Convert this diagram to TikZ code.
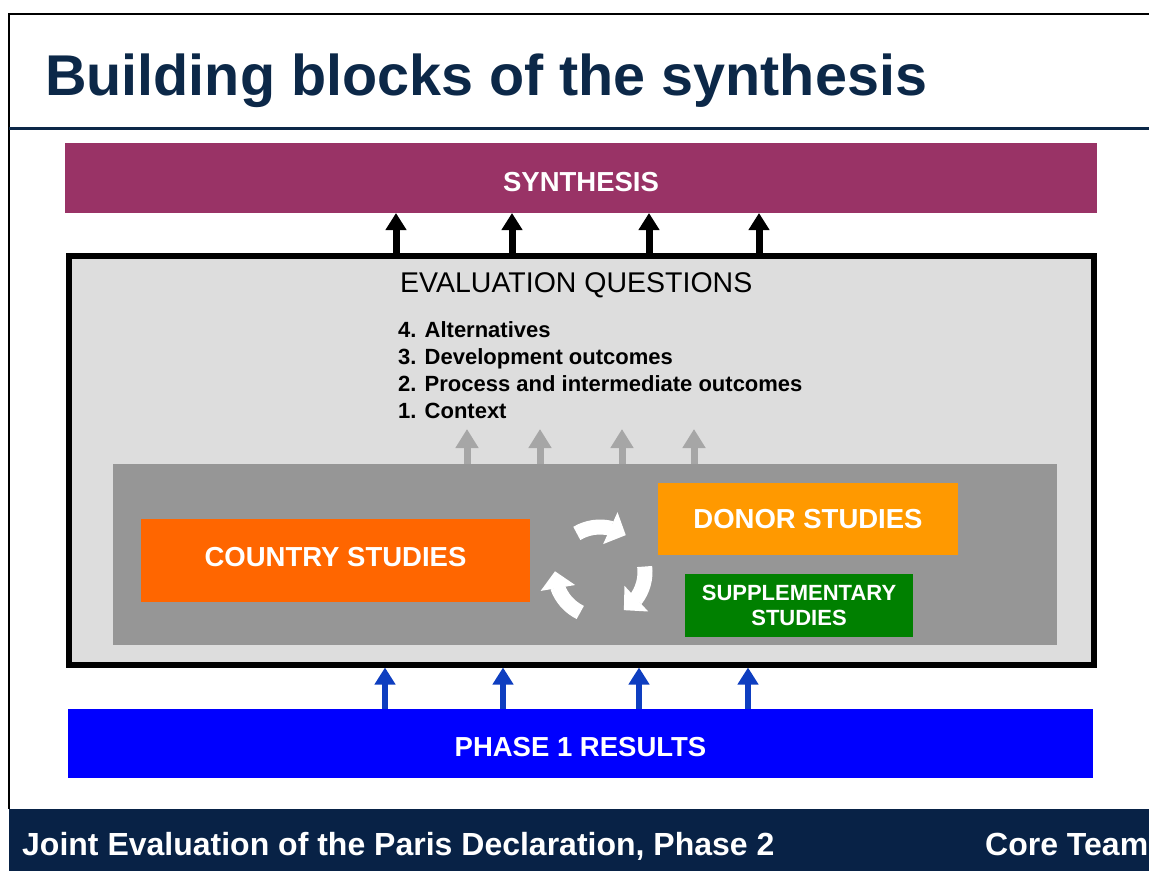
\documentclass[tikz,border=0pt]{standalone}
\usepackage{fontspec}
\setmainfont{Liberation Sans}
\usetikzlibrary{arrows.meta,bending,calc}
\definecolor{titlenavy}{RGB}{12,40,72}
\definecolor{footnavy}{RGB}{8,34,70}
\definecolor{synthcol}{RGB}{153,51,102}
\definecolor{evalfill}{RGB}{221,221,221}
\definecolor{innergray}{RGB}{150,150,150}
\definecolor{grayarrow}{RGB}{166,166,166}
\definecolor{countrycol}{RGB}{255,102,0}
\definecolor{donorcol}{RGB}{255,153,0}
\definecolor{suppcol}{RGB}{0,128,0}
\definecolor{phasecol}{RGB}{0,0,255}
\definecolor{bluearrow}{RGB}{14,62,192}
\newcommand{\fs}[1]{\fontsize{#1}{#1}\selectfont}
\tikzset{
  blockbox/.style={inner sep=0pt, outer sep=0pt},
  boxlabel/.style={inner sep=0pt, text=white, font=\fs{27.5}\bfseries},
  blackup/.style={draw=black, line width=7pt, -{Triangle[width=20pt,length=17pt]}},
  grayup/.style={draw=grayarrow, line width=7pt, -{Triangle[width=22pt,length=19pt]}},
  blueup/.style={draw=bluearrow, line width=6pt, -{Triangle[width=20pt,length=17pt]}},
  cyclearrow/.style={draw=white, line width=15pt, -{Triangle[width=34pt,length=17pt]}},
}
\begin{document}
\begin{tikzpicture}[x=1pt,y=1pt]
\useasboundingbox[fill=white] (0,0) rectangle (1149,-871);

% frame and title rule
\draw[line width=2.5pt] (9,-809) -- (9,-14) -- (1149,-14);
\draw[titlenavy, line width=3pt] (9,-128) -- (1149,-128);

% title
\node[anchor=base west, inner sep=0pt, text=titlenavy, font=\fs{57.5}\bfseries] (title) at (45,-95) {Building blocks of the synthesis};

% synthesis bar
\node[blockbox, fill=synthcol, minimum width=1032pt, minimum height=70pt] (synth) at (581,-178) {};
\node[boxlabel] (synthtext) at ([yshift=-4pt]synth.center) {SYNTHESIS};

% evaluation box
\node[draw=black, line width=6pt, fill=evalfill, inner sep=0pt, minimum width=1025.5pt, minimum height=409pt] (eval) at (581.25,-460) {};
\node[anchor=base west, inner sep=0pt, font=\fs{28.5}] (evq) at (400,-292) {EVALUATION QUESTIONS};
\node[anchor=base west, inner sep=0pt, font=\fs{22}\bfseries] (q4) at (398,-337) {4. Alternatives};
\node[anchor=base west, inner sep=0pt, font=\fs{22}\bfseries] (q3) at (398,-364) {3. Development outcomes};
\node[anchor=base west, inner sep=0pt, font=\fs{22}\bfseries] (q2) at (398,-391) {2. Process and intermediate outcomes};
\node[anchor=base west, inner sep=0pt, font=\fs{22}\bfseries] (q1) at (398,-418) {1. Context};

% inner gray box and studies
\node[blockbox, fill=innergray, minimum width=944pt, minimum height=181pt] (inner) at (585,-554.5) {};
\node[blockbox, fill=countrycol, minimum width=389pt, minimum height=83pt] (country) at (335.5,-560.5) {};
\node[boxlabel] (countrytext) at ([yshift=3pt]country.center) {COUNTRY STUDIES};
\node[blockbox, fill=donorcol, minimum width=300pt, minimum height=72pt] (donor) at (808,-519) {};
\node[boxlabel] (donortext) at (donor.center) {DONOR STUDIES};
\node[blockbox, fill=suppcol, text=white, minimum width=228pt, minimum height=63pt, font=\fs{22}\bfseries, align=center] (supp) at (799,-605.5) {SUPPLEMENTARY\\[3pt]STUDIES};

% cycle arrows
\coordinate (cyc) at (600,-572);
\draw[cyclearrow] ($(cyc)+(121:45)$) arc[start angle=121, end angle=55, radius=45];
\draw[cyclearrow] ($(cyc)+(7:45)$) arc[start angle=7, end angle=-58, radius=45];
\draw[cyclearrow] ($(cyc)+(-116:45)$) arc[start angle=-116, end angle=-181, radius=45];

% phase 1 bar
\node[blockbox, fill=phasecol, minimum width=1025pt, minimum height=69pt] (phase) at (580.5,-743.5) {};
\node[boxlabel] (phasetext) at ([yshift=-4pt]phase.center) {PHASE 1 RESULTS};

% black arrows
\foreach \i/\x in {1/396,2/512,3/649,4/759} {
  \coordinate (b\i) at (\x,0);
  \draw[blackup] (eval.north -| b\i) -- (synth.south -| b\i);
}
% gray arrows
\foreach \i/\x in {1/467,2/540,3/622,4/694} {
  \coordinate (g\i) at (\x,-429);
  \draw[grayup] (inner.north -| g\i) -- (g\i);
}
% blue arrows
\foreach \i/\x in {1/385,2/503,3/639,4/748} {
  \coordinate (u\i) at (\x,0);
  \draw[blueup] (phase.north -| u\i) -- (eval.south -| u\i);
}

% footer
\node[fill=footnavy, inner sep=0pt, outer sep=0pt, anchor=north west, minimum width=1140pt, minimum height=62pt] (footer) at (9,-809) {};
\node[anchor=base west, inner sep=0pt, text=white, font=\fs{32}\bfseries] (foottext) at (22,-855) {Joint Evaluation of the Paris Declaration, Phase 2};
\node[anchor=base west, inner sep=0pt, text=white, font=\fs{32}\bfseries] (coreteam) at (985,-855) {Core Team};
\end{tikzpicture}
\end{document}
